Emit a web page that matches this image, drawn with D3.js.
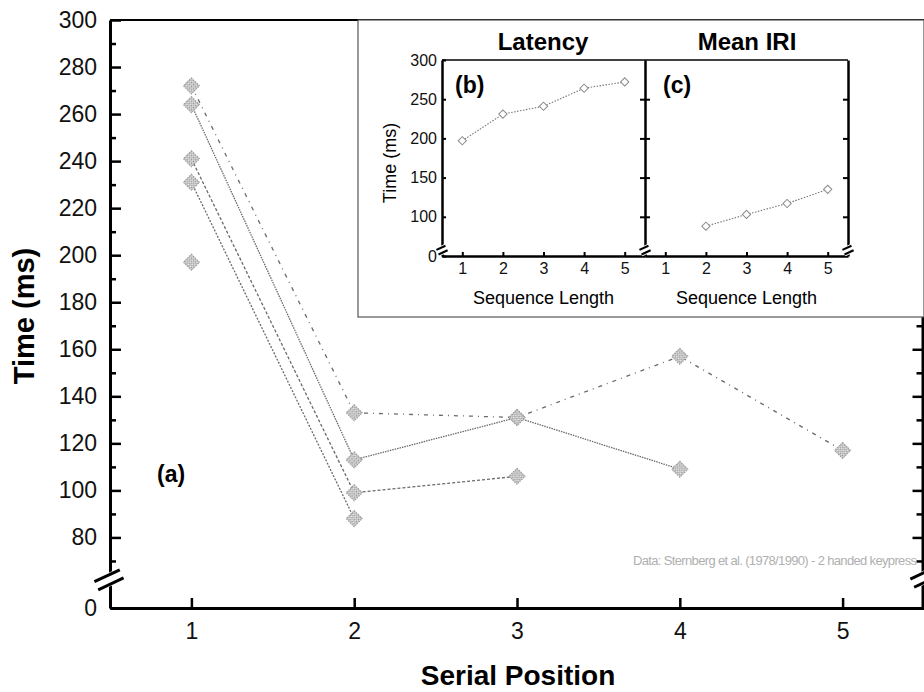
<!DOCTYPE html>
<html>
<head>
<meta charset="utf-8">
<script src="https://cdn.jsdelivr.net/npm/d3@7"></script>
<style>
  body { margin: 0; background: #fff; }
  svg { display: block; font-family: "Liberation Sans", Arial, sans-serif; }
</style>
</head>
<body>
<div id="chart"></div>
<script>
// serial position data (a), one array per sequence length
const positions = [1, 2, 3, 4, 5]
const len1 = [197]
const len2 = [231, 88]
const len3 = [241, 99, 106]
const len4 = [264, 113, 131, 109]
const len5 = [272, 133, 131, 157, 117]

// insets (b) and (c)
const seqLengths = [1, 2, 3, 4, 5]
const latency = [197, 231, 241, 264, 272]
const iriLengths = [2, 3, 4, 5]
const meanIRI = [88, 103, 117, 135]

const yMajor = [0, 80, 100, 120, 140, 160, 180, 200, 220, 240, 260, 280, 300]
const yMinor = [70, 90, 110, 130, 150, 170, 190, 210, 230, 250, 270, 290]
const insetYMajor = [0, 100, 150, 200, 250, 300]
const insetYInner = [100, 150, 200, 250]

const W = 924, H = 692
const svg = d3.select('#chart').append('svg')
	.attr('width', W)
	.attr('height', H)

// hatched fill for the big markers
const defs = svg.append('defs')
const pat = defs.append('pattern')
	.attr('id', 'hatch')
	.attr('patternUnits', 'userSpaceOnUse')
	.attr('width', 3).attr('height', 3)
pat.append('rect').attr('width', 3).attr('height', 3).attr('fill', '#ececec')
pat.append('rect').attr('width', 1.5).attr('height', 1.5).attr('fill', '#909090')
pat.append('rect').attr('x', 1.5).attr('y', 1.5).attr('width', 1.5).attr('height', 1.5).attr('fill', '#a8a8a8')

// ---------- main panel (a) ----------
const plot = { left: 110, right: 924, top: 20, bottom: 608 }
const k = (plot.bottom - plot.top) / 250
const x = d3.scaleLinear().domain([0.5, 5.5]).range([plot.left, plot.right])
// broken axis: 0..60 squeezed into the gap below 80
const y = d3.scaleLinear()
	.domain([0, 60, 300])
	.range([plot.bottom, plot.bottom - 10 * k, plot.top])

// frame top
svg.append('line')
	.attr('x1', plot.left).attr('x2', plot.right)
	.attr('y1', plot.top).attr('y2', plot.top)
	.attr('stroke', '#000').attr('stroke-width', 2)

const series = [
	{ vals: len1, dash: null },
	{ vals: len2, dash: '2,1.5' },
	{ vals: len3, dash: '3,2' },
	{ vals: len4, dash: '1.5,1' },
	{ vals: len5, dash: '4,5,1,5' },
]

const line = d3.line()
	.x((d, i) => x(positions[i]))
	.y((d) => y(d))

series.forEach((s) => {
	if (s.vals.length > 1) {
		svg.append('path')
			.datum(s.vals)
			.attr('d', line)
			.attr('fill', 'none')
			.attr('stroke', '#6a6a6a')
			.attr('stroke-width', 1.3)
			.attr('stroke-dasharray', s.dash)
	}
})

const bigDiamond = d3.symbol(d3.symbolSquare, 130)
series.forEach((s) => {
	svg.selectAll(null)
		.data(s.vals)
		.enter().append('path')
			.attr('d', bigDiamond)
			.attr('transform', (d, i) => `translate(${x(positions[i])},${y(d)}) rotate(45)`)
			.attr('fill', 'url(#hatch)')
			.attr('stroke', '#999')
			.attr('stroke-width', 1)
			.attr('stroke-dasharray', '1.5,1')
})

// left axis
const tickFont = 23
const gLeft = svg.append('g')
	.attr('transform', `translate(${plot.left},0)`)
	.call(d3.axisLeft(y).tickValues(yMajor).tickSizeInner(-11).tickSizeOuter(0).tickPadding(13).tickFormat(d3.format('d')))
gLeft.selectAll('text').attr('font-size', tickFont).attr('font-family', '"Liberation Sans", Arial, sans-serif').attr('fill', '#111')
gLeft.selectAll('.tick line').attr('stroke-width', 2.5)
gLeft.select('.domain').attr('stroke-width', 3)

const gLeftMinor = svg.append('g')
	.attr('transform', `translate(${plot.left},0)`)
	.call(d3.axisLeft(y).tickValues(yMinor).tickSizeInner(-6).tickSizeOuter(0).tickFormat(''))
gLeftMinor.select('.domain').remove()
gLeftMinor.selectAll('.tick line').attr('stroke-width', 2.5)

// right axis
const rightX = plot.right - 1.5
const gRight = svg.append('g')
	.attr('transform', `translate(${rightX},0)`)
	.call(d3.axisRight(y).tickValues(yMajor.filter((d) => d > 0)).tickSizeInner(-10).tickSizeOuter(0).tickFormat(''))
gRight.select('.domain').attr('stroke-width', 3)
gRight.selectAll('.tick line').attr('stroke-width', 2.5)
const gRightMinor = svg.append('g')
	.attr('transform', `translate(${rightX},0)`)
	.call(d3.axisRight(y).tickValues(yMinor).tickSizeInner(-6).tickSizeOuter(0).tickFormat(''))
gRightMinor.select('.domain').remove()
gRightMinor.selectAll('.tick line').attr('stroke-width', 2.5)

// bottom axis
const gBottom = svg.append('g')
	.attr('transform', `translate(0,${plot.bottom})`)
	.call(d3.axisBottom(x).tickValues(positions).tickSizeInner(-10).tickSizeOuter(0).tickPadding(15).tickFormat(d3.format('d')))
gBottom.selectAll('text').attr('font-size', tickFont).attr('font-family', '"Liberation Sans", Arial, sans-serif').attr('fill', '#111')
gBottom.selectAll('.tick line').attr('stroke-width', 2.5)
gBottom.select('.domain').attr('stroke-width', 3)

// axis break marks
function breakMarks (g, cx, cy, w, gap, sw) {
	g.append('rect')
		.attr('x', cx - w / 2).attr('y', cy - gap / 2 - 2)
		.attr('width', w).attr('height', gap + 4)
		.attr('fill', '#fff')
		.attr('transform', `rotate(-25,${cx},${cy})`)
	;[-gap / 2, gap / 2].forEach((o) => {
		g.append('line')
			.attr('x1', cx - w / 2).attr('x2', cx + w / 2)
			.attr('y1', cy + o).attr('y2', cy + o)
			.attr('transform', `rotate(-25,${cx},${cy})`)
			.attr('stroke', '#000').attr('stroke-width', sw)
	})
}
breakMarks(svg, plot.left - 1, y(62), 28, 9, 3)
breakMarks(svg, rightX - 3, y(62), 16, 9, 3)

// labels
svg.append('text')
	.attr('transform', `translate(34,${(plot.top + plot.bottom) / 2 + 2}) rotate(-90)`)
	.attr('text-anchor', 'middle')
	.attr('font-size', 29).attr('font-weight', 'bold')
	.text('Time (ms)')
svg.append('text')
	.attr('x', (plot.left + plot.right) / 2 + 1)
	.attr('y', 685)
	.attr('text-anchor', 'middle')
	.attr('font-size', 28).attr('font-weight', 'bold')
	.text('Serial Position')
svg.append('text')
	.attr('x', 157).attr('y', 482)
	.attr('font-size', 23).attr('font-weight', 'bold')
	.text('(a)')
svg.append('text')
	.attr('x', 633).attr('y', 565)
	.attr('font-size', 13)
	.attr('fill', '#b0b0b0')
	.attr('textLength', 284)
	.attr('lengthAdjust', 'spacing')
	.text('Data: Sternberg et al. (1978/1990) - 2 handed keypress')

// ---------- inset (b) + (c) ----------
const inset = svg.append('g')
inset.append('rect')
	.attr('x', 358).attr('y', 20)
	.attr('width', W - 358).attr('height', 297)
	.attr('fill', '#fff')
	.attr('stroke', '#555').attr('stroke-width', 1.2)

const ip = { top: 60, bottom: 256 }
const ki = (ip.bottom - ip.top) / 250
const yi = d3.scaleLinear()
	.domain([0, 60, 300])
	.range([ip.bottom, ip.bottom - 10 * ki, ip.top])
const xb = d3.scaleLinear().domain([0.5, 5.5]).range([442, 645])
const xc = d3.scaleLinear().domain([0.5, 5.5]).range([645, 848])

const insetFont = 16
function styleText (g) {
	g.selectAll('text').attr('font-size', insetFont).attr('font-family', '"Liberation Sans", Arial, sans-serif').attr('fill', '#111')
}

// top lines
inset.append('line')
	.attr('x1', xb.range()[0]).attr('x2', xc.range()[1])
	.attr('y1', ip.top).attr('y2', ip.top)
	.attr('stroke', '#000').attr('stroke-width', 1.5)

// left axis of (b)
const bl = inset.append('g')
	.attr('transform', `translate(${xb.range()[0]},0)`)
	.call(d3.axisLeft(yi).tickValues(insetYMajor).tickSizeInner(-4).tickSizeOuter(0).tickPadding(5).tickFormat(d3.format('d')))
bl.select('.domain').attr('stroke-width', 2.5)
bl.selectAll('.tick line').attr('stroke-width', 2)
styleText(bl)

// divider axis, ticks both sides
;[5, -5].forEach((t) => {
	const g = inset.append('g')
		.attr('transform', `translate(${xb.range()[1]},0)`)
		.call(d3.axisLeft(yi).tickValues(insetYInner).tickSizeInner(t).tickSizeOuter(0).tickFormat(''))
	g.select('.domain').attr('stroke-width', 2)
	g.selectAll('.tick line').attr('stroke-width', 2)
})

// right axis of (c)
const cr = inset.append('g')
	.attr('transform', `translate(${xc.range()[1]},0)`)
	.call(d3.axisRight(yi).tickValues(insetYInner).tickSizeInner(-5).tickSizeOuter(0).tickFormat(''))
cr.select('.domain').attr('stroke-width', 2.5)
cr.selectAll('.tick line').attr('stroke-width', 2)

// bottom axes
;[xb, xc].forEach((sx) => {
	const g = inset.append('g')
		.attr('transform', `translate(0,${ip.bottom})`)
		.call(d3.axisBottom(sx).tickValues(seqLengths).tickSizeInner(-4).tickSizeOuter(0).tickPadding(7).tickFormat(d3.format('d')))
	g.select('.domain').attr('stroke-width', 2.5)
	g.selectAll('.tick line').attr('stroke-width', 2)
	styleText(g)
	inset.append('text')
		.attr('x', (sx.range()[0] + sx.range()[1]) / 2)
		.attr('y', 304)
		.attr('text-anchor', 'middle')
		.attr('font-size', 18)
		.text('Sequence Length')
})

breakMarks(inset, xb.range()[0], yi(45), 10, 5, 2)
breakMarks(inset, xb.range()[1], yi(45), 10, 5, 2)
breakMarks(inset, xc.range()[1], yi(45), 10, 5, 2)

// inset series
const smallDiamond = d3.symbol(d3.symbolSquare, 34)
function insetSeries (sx, xs, vals) {
	inset.append('path')
		.datum(vals)
		.attr('d', d3.line().x((d, i) => sx(xs[i])).y((d) => yi(d)))
		.attr('fill', 'none')
		.attr('stroke', '#777')
		.attr('stroke-width', 1.1)
		.attr('stroke-dasharray', '1.5,1.5')
	inset.selectAll(null)
		.data(vals)
		.enter().append('path')
			.attr('d', smallDiamond)
			.attr('transform', (d, i) => `translate(${sx(xs[i])},${yi(d)}) rotate(45)`)
			.attr('fill', '#fff')
			.attr('stroke', '#8a8a8a')
			.attr('stroke-width', 1)
}
insetSeries(xb, seqLengths, latency)
insetSeries(xc, iriLengths, meanIRI)

// inset titles
inset.append('text')
	.attr('x', 543).attr('y', 50)
	.attr('text-anchor', 'middle')
	.attr('font-size', 24).attr('font-weight', 'bold')
	.text('Latency')
inset.append('text')
	.attr('x', 747).attr('y', 50)
	.attr('text-anchor', 'middle')
	.attr('font-size', 24).attr('font-weight', 'bold')
	.text('Mean IRI')
inset.append('text')
	.attr('x', 455).attr('y', 93)
	.attr('font-size', 23).attr('font-weight', 'bold')
	.text('(b)')
inset.append('text')
	.attr('x', 663).attr('y', 93)
	.attr('font-size', 23).attr('font-weight', 'bold')
	.text('(c)')
inset.append('text')
	.attr('transform', `translate(396,${(ip.top + ip.bottom) / 2 + 5}) rotate(-90)`)
	.attr('text-anchor', 'middle')
	.attr('font-size', 18)
	.text('Time (ms)')
</script>
</body>
</html>
